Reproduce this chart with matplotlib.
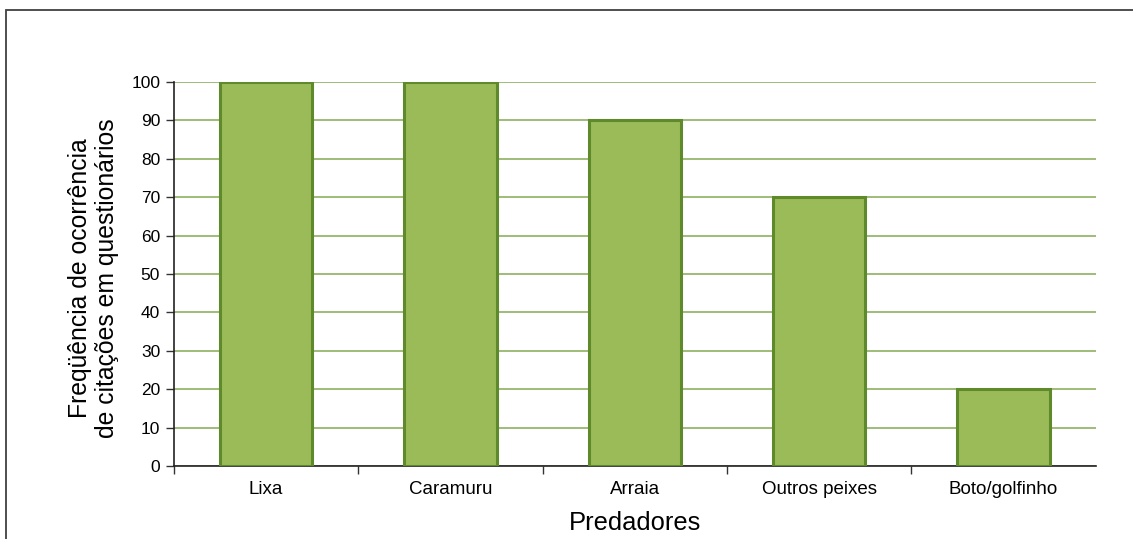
import matplotlib.pyplot as plt
from matplotlib.patches import Rectangle

plt.rcParams['font.family'] = ['Liberation Sans', 'DejaVu Sans']

predadores = ["Lixa", "Caramuru", "Arraia", "Outros peixes", "Boto/golfinho"]
frequencia = [100, 100, 90, 70, 20]
yticks = list(range(0, 101, 10))

fig = plt.figure(figsize=(11.33, 5.39), dpi=100)
ax = fig.add_axes([0.1536, 0.1354, 0.8134, 0.7125])

# outer frame of the chart area
fig.patches.append(Rectangle((0.0055, -0.1), 1.2, 1.0815, transform=fig.transFigure,
                             fill=False, edgecolor='#404040', linewidth=1.3))

x = list(range(len(predadores)))
ax.bar(x, frequencia, width=0.5, color='#9BBB59', edgecolor='#5E8A2B',
       linewidth=2.2, zorder=3)

ax.set_xlim(-0.5, len(predadores) - 0.5)
ax.set_ylim(0, 100)
ax.set_yticks(yticks)
ax.set_yticklabels([str(v) for v in yticks], fontsize=12.5)
ax.yaxis.grid(True, color='#8DB062', linewidth=1.2, zorder=0)
ax.set_axisbelow(True)

# category labels sit between boundary tick marks
ax.set_xticks(x)
ax.set_xticklabels(predadores, fontsize=13.5)
ax.tick_params(axis='x', length=0, pad=11)
ax.set_xticks([i - 0.5 for i in range(len(predadores))], minor=True)
ax.tick_params(axis='x', which='minor', length=6, width=1, color='#333333')
ax.tick_params(axis='y', length=6, width=1, color='#333333', pad=4)

for side in ['top', 'right']:
    ax.spines[side].set_visible(False)
for side in ['left', 'bottom']:
    ax.spines[side].set_color('#222222')
    ax.spines[side].set_linewidth(1.2)

ax.set_ylabel("Freqüência de ocorrência\nde citações em questionários", fontsize=17.8,
              linespacing=1.12)
ax.yaxis.set_label_coords(-0.060, 0.49)
ax.set_xlabel("Predadores", fontsize=18.4, labelpad=9)

fig.savefig("out.png", dpi=100)
